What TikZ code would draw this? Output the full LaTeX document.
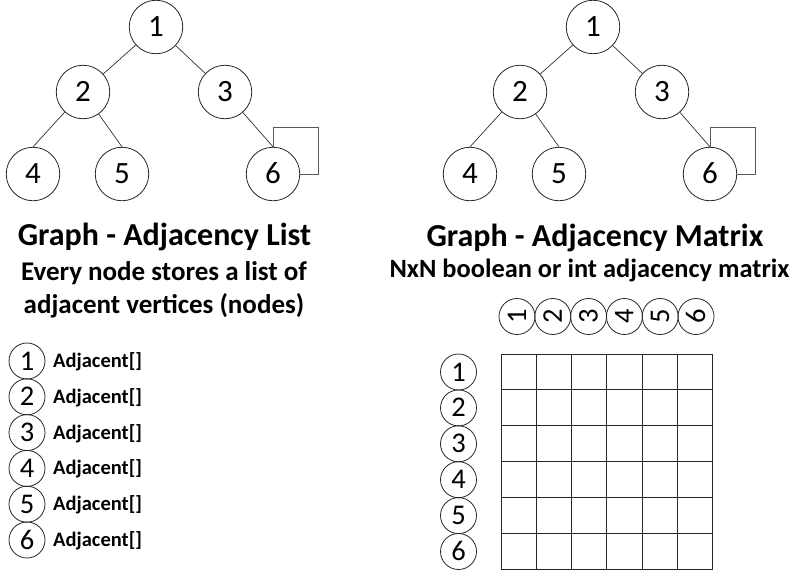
\documentclass[tikz,border=0pt]{standalone}
\usepackage{fontspec}
\setmainfont{Carlito}
\begin{document}
\begin{tikzpicture}[x=1pt,y=-1pt,
  gnode/.style={circle, draw=black!85, line width=0.8pt, minimum size=53.5pt, inner sep=0pt, text height=19.6pt, text depth=0pt, font=\fontsize{31}{31}\selectfont},
  lnode/.style={circle, draw=black!85, line width=0.8pt, minimum size=36pt, inner sep=0pt, text height=18pt, text depth=0pt, font=\fontsize{28.5}{28.5}\selectfont},
  edge/.style={draw=black!80, line width=0.7pt},
  loopline/.style={draw=black!65, line width=1pt},
  title/.style={font=\fontsize{32}{32}\selectfont\bfseries, anchor=base, inner sep=0pt},
  subtitle/.style={font=\fontsize{27}{27}\selectfont\bfseries, anchor=base, inner sep=0pt},
  adj/.style={font=\fontsize{20.5}{20.5}\selectfont\bfseries, anchor=base west, inner sep=0pt},
  gridline/.style={draw=black!85, line width=1pt}]
\useasboundingbox (0,0) rectangle (806,581);
% ---------- left graph ----------
\node[gnode] (a1) at (156,27) {1};
\node[gnode] (a2) at (83,92) {2};
\node[gnode] (a3) at (225,92) {3};
\node[gnode] (a4) at (33,174) {4};
\node[gnode] (a5) at (122,174) {5};
\node[gnode] (a6) at (273,174) {6};
\draw[edge] (a1) -- (a2);
\draw[edge] (a1) -- (a3);
\draw[edge] (a2) -- (a4.north);
\draw[edge] (a2) -- (a5.north);
\draw[edge] (a3) -- (a6.north);
\draw[loopline] (a6.north) -- ++(0,-19) -| ([xshift=18pt]a6.east) -- (a6.east);
% ---------- right graph ----------
\node[gnode] (b1) at (593,27) {1};
\node[gnode] (b2) at (520,92) {2};
\node[gnode] (b3) at (662,92) {3};
\node[gnode] (b4) at (470,174) {4};
\node[gnode] (b5) at (559,174) {5};
\node[gnode] (b6) at (710,174) {6};
\draw[edge] (b1) -- (b2);
\draw[edge] (b1) -- (b3);
\draw[edge] (b2) -- (b4.north);
\draw[edge] (b2) -- (b5.north);
\draw[edge] (b3) -- (b6.north);
\draw[loopline] (b6.north) -- ++(0,-19) -| ([xshift=18pt]b6.east) -- (b6.east);
% ---------- titles ----------
\node[title] (t1) at (164.5,245) {Graph - Adjacency List};
\node[subtitle] (s1) at (164,280) {Every node stores a list of};
\node[subtitle] (s2) at (164,313) {adjacent vertices (nodes)};
\node[title] (t2) at (595,246.5) {Graph - Adjacency Matrix};
\node[subtitle, font=\fontsize{26.4}{26.4}\selectfont\bfseries] (s3) at (589.5,277) {NxN boolean or int adjacency matrix};
% ---------- adjacency list ----------
\foreach \i in {1,...,6} {
  \node[lnode] (l\i) at (27,{361+35.8*(\i-1)}) {\i};
  \node[adj] (la\i) at (53,{367.5+35.8*(\i-1)}) {Adjacent[]};
}
% ---------- matrix ----------
\foreach \i in {1,...,6} {
  \node[lnode] (r\i) at (458.5,{372+35.9*(\i-1)}) {\i};
  \node[lnode, rotate=90] (c\i) at ({517+35.8*(\i-1)},316.5) {\i};
}
\foreach \k in {0,...,6} {
  \draw[gridline] ({501+35.3*\k},354) -- ({501+35.3*\k},569.5);
  \draw[gridline] (501,{354+35.9*\k}) -- (713,{354+35.9*\k});
}
\end{tikzpicture}
\end{document}
